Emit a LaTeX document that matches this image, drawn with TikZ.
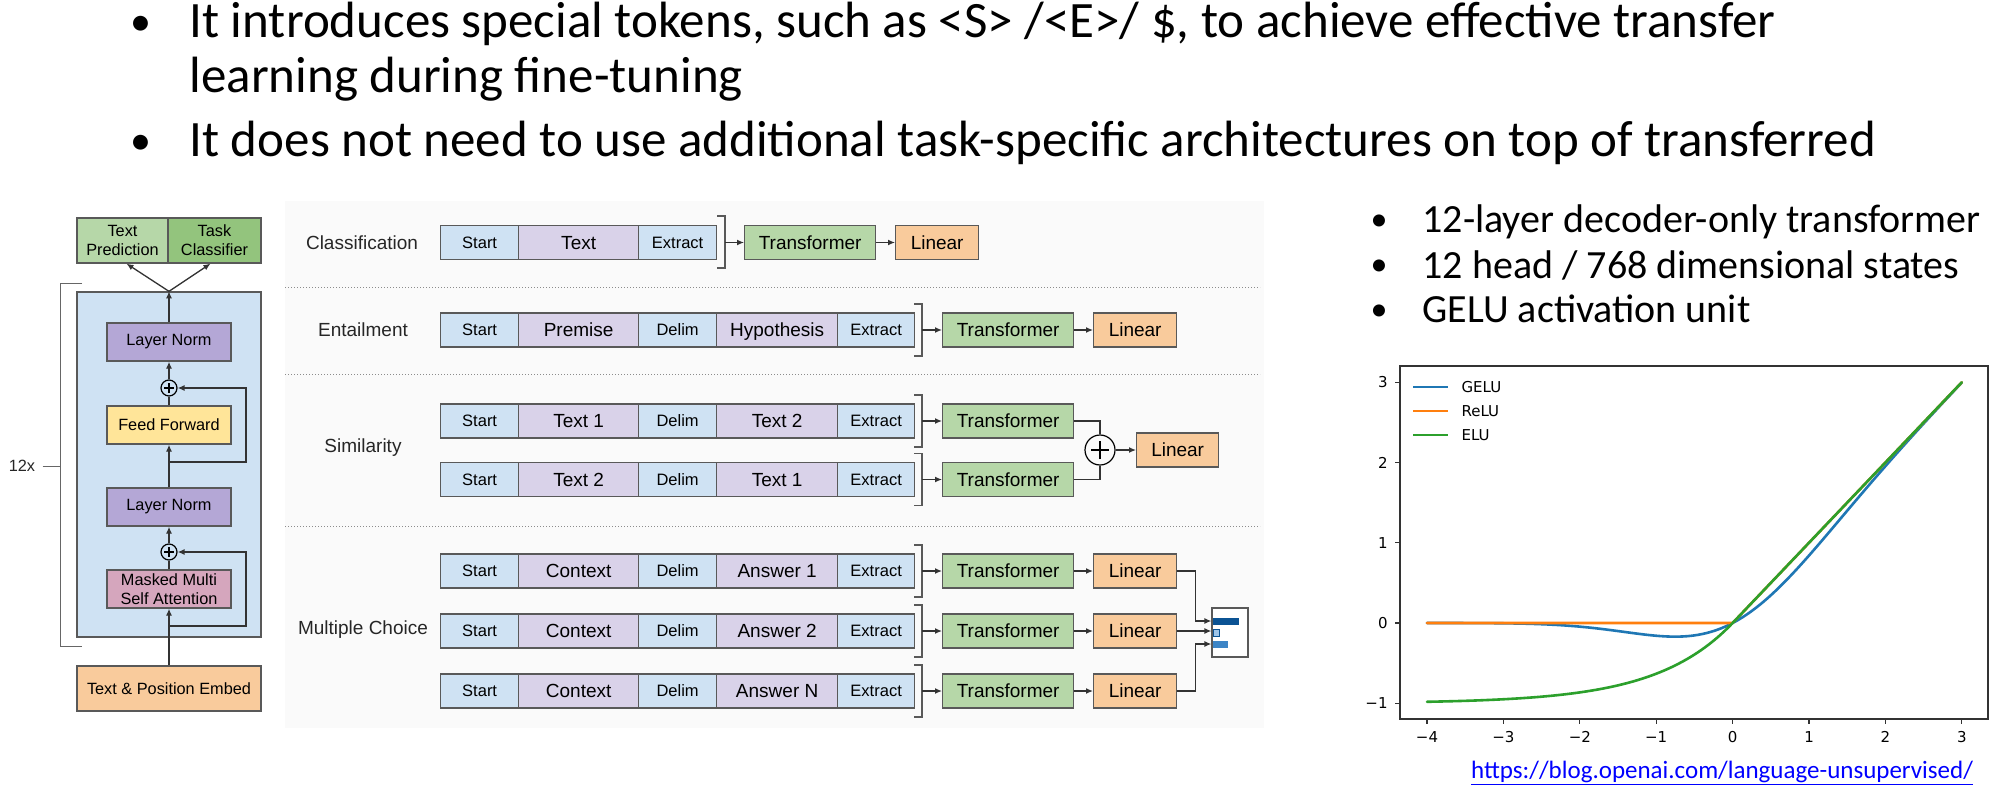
\documentclass[tikz,border=0pt]{standalone}
\usepackage{fontspec}
\setmainfont{Liberation Sans}
\newfontfamily\slidefont{Carlito}
\newfontfamily\plotfont{DejaVu Sans}
\usetikzlibrary{arrows.meta,calc}
\definecolor{tokblue}{HTML}{CFE2F3}
\definecolor{tokpurp}{HTML}{D9D2E9}
\definecolor{trgreen}{HTML}{B6D7A8}
\definecolor{linorange}{HTML}{F9CB9C}
\definecolor{lnpurp}{HTML}{B4A7D6}
\definecolor{ffyellow}{HTML}{FFE599}
\definecolor{msapink}{HTML}{D5A6BD}
\definecolor{taskgreen}{HTML}{93C47D}
\definecolor{boxedge}{HTML}{595959}
\definecolor{lineclr}{HTML}{333333}
\definecolor{bgfaint}{HTML}{FAFAFA}
\definecolor{mplblue}{HTML}{1F77B4}
\definecolor{mplorange}{HTML}{FF7F0E}
\definecolor{mplgreen}{HTML}{2CA02C}
\definecolor{bardark}{HTML}{0B5394}
\definecolor{barmid}{HTML}{3D85C6}
\definecolor{barlight}{HTML}{9FC5E8}
\definecolor{urlblue}{HTML}{0000FF}
\tikzset{
  bx/.style={draw=boxedge, line width=1.3pt, inner sep=0pt, minimum height=34pt, anchor=west},
  tsm/.style={bx, font=\fontsize{16.5}{18}\selectfont, text height=15.8pt, text depth=4pt},
  tbg/.style={bx, font=\fontsize{19}{21}\selectfont, text height=17.6pt, text depth=4pt},
  lc/.style={draw=boxedge, line width=1.3pt, inner sep=0pt, align=center, font=\fontsize{16.3}{19}\selectfont},
  arr/.style={draw=lineclr, line width=1.3pt, -{Latex[length=7pt,width=6pt]}},
  ln/.style={draw=lineclr, line width=1.3pt},
  brk/.style={draw=boxedge, line width=1.3pt},
  sep/.style={draw=black!45, line width=1pt, dash pattern=on 1pt off 2pt},
  secl/.style={font=\fontsize{19}{21}\selectfont, text=black!85},
  pluscirc/.style={circle, draw=black, line width=1.2pt, inner sep=0pt, minimum size=#1,
     path picture={\draw[line width=1.3pt]
       ([xshift=-0.3*#1]path picture bounding box.center) -- ([xshift=0.3*#1]path picture bounding box.center)
       ([yshift=-0.3*#1]path picture bounding box.center) -- ([yshift=0.3*#1]path picture bounding box.center);}},
  topfont/.style={font=\slidefont\fontsize{51}{60}\selectfont},
  rfont/.style={font=\slidefont\fontsize{40}{46}\selectfont},
  bulfont/.style={font=\slidefont\fontsize{#1}{#1}\selectfont},
  tick/.style={font=\plotfont\fontsize{15}{17}\selectfont},
  curve/.style={line width=2.6pt, line join=round, line cap=round}
}
% five-token row: prefix, y, text-a, text-b
\newcommand{\fiverow}[4]{%
  \node[tsm, fill=tokblue, minimum width=78pt] (#1a) at (440,#2) {Start};
  \node[tbg, fill=tokpurp, minimum width=120pt] (#1b) at (518,#2) {#3};
  \node[tsm, fill=tokblue, minimum width=78pt] (#1c) at (638,#2) {Delim};
  \node[tbg, fill=tokpurp, minimum width=121pt] (#1d) at (716,#2) {#4};
  \node[tsm, fill=tokblue, minimum width=77pt] (#1e) at (837,#2) {Extract};
  \draw[brk] (914,#2+26) -- (922,#2+26) -- (922,#2-26) -- (914,#2-26);
  \coordinate (#1k) at (922,#2);
  \node[tbg, fill=trgreen, minimum width=131pt] (#1t) at (942,#2) {Transformer};
  \draw[arr] (#1k) -- (#1t.west);
}
\begin{document}
\begin{tikzpicture}[x=1pt,y=1pt]
\useasboundingbox (0,0) rectangle (2012,-810);
\fill[white] (0,0) rectangle (2012,-810);
\fill[bgfaint] (285,-201) rectangle (1264,-728);

% ---------- top bullets ----------
\node[bulfont=42, anchor=base] (tb1) at (141,-36) {•};
\node[topfont, anchor=base west] (tt1) at (186,-38) {It introduces special tokens, such as <S> /<E>/ \$, to achieve effective transfer};
\node[topfont, anchor=base west] (tt2) at (186,-93) {learning during fine-tuning};
\node[bulfont=42, anchor=base] (tb2) at (141,-155) {•};
\node[topfont, anchor=base west] (tt3) at (186,-157) {It does not need to use additional task-specific architectures on top of transferred};

% ---------- left column ----------
\node[lc, fill=trgreen, minimum width=91pt, minimum height=45pt] (tp) at (122.5,-240.5) {Text\\Prediction};
\node[lc, fill=taskgreen, minimum width=93pt, minimum height=45pt] (tc) at (214.5,-240.5) {Task\\Classifier};
\node[draw=boxedge, line width=1.3pt, fill=tokblue, minimum width=184pt, minimum height=345pt, inner sep=0pt] (blk) at (169,-464.5) {};
\node[lc, fill=lnpurp, minimum width=124pt, minimum height=38pt] (ln1) at (169,-342) {Layer Norm};
\node[pluscirc=16pt] (p1) at (169,-388) {};
\node[lc, fill=ffyellow, minimum width=124pt, minimum height=38pt] (ff) at (169,-425) {Feed Forward};
\node[lc, fill=lnpurp, minimum width=124pt, minimum height=38pt] (ln2) at (169,-507) {Layer Norm};
\node[pluscirc=16pt] (p2) at (169,-552) {};
\node[lc, fill=msapink, minimum width=124pt, minimum height=38pt] (msa) at (169,-589) {Masked Multi\\Self Attention};
\node[lc, fill=linorange, minimum width=184pt, minimum height=45pt] (emb) at (169,-688.5) {Text \& Position Embed};
\draw[arr] (emb.north) -- (msa.south);
\draw[ln] (msa.north) -- (p2.south);
\draw[arr] (p2.north) -- (ln2.south);
\draw[arr] (ln2.north) -- (ff.south);
\draw[ln] (ff.north) -- (p1.south);
\draw[arr] (p1.north) -- (ln1.south);
\draw[arr] (ln1.north) -- (blk.north);
\draw[arr] (blk.north) -- ([xshift=4pt]tp.south);
\draw[arr] (blk.north) -- ([xshift=-4pt]tc.south);
\coordinate (r1) at (169,-462);
\coordinate (r2) at (169,-626);
\draw[arr] (r1) -- (246,-462) |- (p1.east);
\draw[arr] (r2) -- (246,-626) |- (p2.east);
\draw[draw=black!60, line width=1pt] (82,-283) -- (60,-283) -- (60,-646) -- (82,-646);
\coordinate (bk) at (60,-466);
\node[font=\fontsize{16.3}{18}\selectfont, text=black!85] (twelve) at (22,-466) {12x};
\draw[draw=black!60, line width=1pt] (twelve.east) ++(4,0) -- (bk);

% ---------- middle: task inputs ----------
\node[secl] (lcls) at (362,-243) {Classification};
\node[secl] (lent) at (363,-330) {Entailment};
\node[secl] (lsim) at (363,-448) {Similarity};
\node[secl] (lmc) at (363,-630) {Multiple Choice};
\draw[sep] (285,-287) -- (1260,-287);
\draw[sep] (285,-374) -- (1260,-374);
\draw[sep] (285,-526) -- (1260,-526);

% classification
\node[tsm, fill=tokblue, minimum width=78pt] (ca) at (440,-242.5) {Start};
\node[tbg, fill=tokpurp, minimum width=120pt] (cb) at (518,-242.5) {Text};
\node[tsm, fill=tokblue, minimum width=78pt] (cc) at (638,-242.5) {Extract};
\draw[brk] (717,-216) -- (725,-216) -- (725,-268) -- (717,-268);
\coordinate (ck) at (725,-242.5);
\node[tbg, fill=trgreen, minimum width=131pt] (ct) at (744,-242.5) {Transformer};
\node[tbg, fill=linorange, minimum width=83pt] (cl) at (895,-242.5) {Linear};
\draw[arr] (ck) -- (ct.west);
\draw[arr] (ct.east) -- (cl.west);

% entailment
\fiverow{e}{-330}{Premise}{Hypothesis}
\node[tbg, fill=linorange, minimum width=83pt] (el) at (1093,-330) {Linear};
\draw[arr] (et.east) -- (el.west);

% similarity
\fiverow{s}{-421}{Text 1}{Text 2}
\fiverow{u}{-479.5}{Text 2}{Text 1}
\node[pluscirc=30pt] (sp) at (1100,-450) {};
\node[tbg, fill=linorange, minimum width=82pt] (sl) at (1136,-450) {Linear};
\draw[ln] (st.east) -| (sp.north);
\draw[ln] (ut.east) -| (sp.south);
\draw[arr] (sp.east) -- (sl.west);

% multiple choice
\fiverow{m}{-571}{Context}{Answer 1}
\fiverow{n}{-631}{Context}{Answer 2}
\fiverow{o}{-691}{Context}{Answer N}
\node[tbg, fill=linorange, minimum width=83pt] (ml) at (1093,-571) {Linear};
\node[tbg, fill=linorange, minimum width=83pt] (nl) at (1093,-631) {Linear};
\node[tbg, fill=linorange, minimum width=83pt] (ol) at (1093,-691) {Linear};
\draw[arr] (mt.east) -- (ml.west);
\draw[arr] (nt.east) -- (nl.west);
\draw[arr] (ot.east) -- (ol.west);
\node[draw=boxedge, fill=white, line width=1.2pt, minimum width=36pt, minimum height=49pt, inner sep=0pt] (chart) at (1230,-632.5) {};
\fill[bardark] (1213,-618) rectangle (1239,-624.5);
\fill[barlight] (1213,-629) rectangle (1219,-636);
\draw[bardark, line width=0.6pt] (1213,-629) rectangle (1219,-636);
\fill[barmid] (1213,-641) rectangle (1228,-647.5);
\draw[arr] (ml.east) -- ++(18,0) |- ([yshift=11.5pt]chart.west);
\draw[arr] (nl.east) -- (nl.east -| chart.west);
\draw[arr] (ol.east) -- ++(18,0) |- ([yshift=-11.5pt]chart.west);

% ---------- right bullets ----------
\node[bulfont=34, anchor=base] (rb1) at (1379,-231) {•};
\node[rfont, anchor=base west] (rt1) at (1419,-233) {12-layer decoder-only transformer};
\node[bulfont=34, anchor=base] (rb2) at (1379,-276) {•};
\node[rfont, anchor=base west] (rt2) at (1419,-278) {12 head / 768 dimensional states};
\node[bulfont=34, anchor=base] (rb3) at (1379,-320) {•};
\node[rfont, anchor=base west] (rt3) at (1419,-322) {GELU activation unit};

% ---------- plot ----------
\begin{scope}[shift={(1732.6,-623)}, x=76.4pt, y=80.25pt]
  \draw[mplblue, curve] plot[domain=-4:3, samples=141, smooth] (\x, {0.5*\x*(1+tanh(0.7978846*(\x+0.044715*\x*\x*\x)))});
  \draw[mplorange, curve] (-4,0) -- (0,0) -- (3,3);
  \draw[mplgreen, curve] plot[domain=-4:0, samples=81, smooth] (\x, {exp(\x)-1}) -- (3,3);
  \draw[black!80, line width=1.4pt] (-4.353,-1.196) rectangle (3.343,3.203);
  \foreach \v/\t [count=\k] in {-4/−4,-3/−3,-2/−2,-1/−1,0/0,1/1,2/2,3/3} {
    \draw[black!80, line width=1.3pt] (\v,-1.196) -- ++(0,-0.065);
    \node[tick] (xt\k) at (\v,-1.42) {\t};
  }
  \foreach \v/\t [count=\k] in {-1/−1,0/0,1/1,2/2,3/3} {
    \draw[black!80, line width=1.3pt] (-4.353,\v) -- ++(-0.068,0);
    \node[tick, anchor=east] (yt\k) at (-4.47,\v) {\t};
  }
\end{scope}
\draw[mplblue, line width=2.6pt] (1413,-387) -- (1448,-387);
\draw[mplorange, line width=2.6pt] (1413,-411) -- (1448,-411);
\draw[mplgreen, line width=2.6pt] (1413,-435) -- (1448,-435);
\node[tick, anchor=west] (lg1) at (1458,-387) {GELU};
\node[tick, anchor=west] (lg2) at (1458,-411) {ReLU};
\node[tick, anchor=west] (lg3) at (1458,-435) {ELU};
\node[font=\slidefont\fontsize{25}{28}\selectfont, text=urlblue, anchor=west, inner sep=0pt] (url) at (1471,-773) {\underline{https://blog.openai.com/language-unsupervised/}};
\end{tikzpicture}
\end{document}
